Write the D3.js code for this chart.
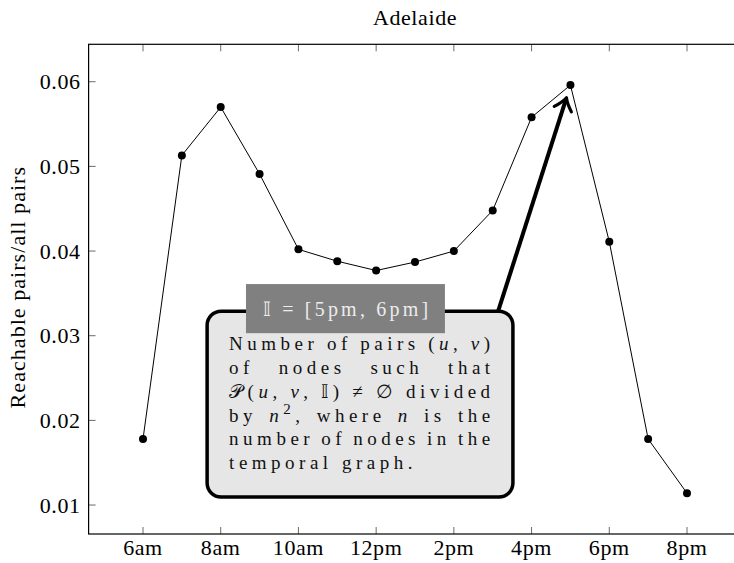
<!DOCTYPE html>
<html>
<head>
<meta charset="utf-8">
<script src="https://cdn.jsdelivr.net/npm/d3@7"></script>
<style>
  html, body { margin: 0; padding: 0; background: #fff; }
  svg { display: block; }
</style>
</head>
<body>
<script>
// hour of day (24h) for each sample
const hours = [6, 7, 8, 9, 10, 11, 12, 13, 14, 15, 16, 17, 18, 19, 20]
const reachable = [0.0178, 0.0513, 0.0570, 0.0491, 0.0402, 0.0388, 0.0377, 0.0387,
  0.0400, 0.0448, 0.0558, 0.0596, 0.0411, 0.0178, 0.0114]

const xTicks = [6, 8, 10, 12, 14, 16, 18, 20]
const xTickLabels = ['6am', '8am', '10am', '12pm', '2pm', '4pm', '6pm', '8pm']
const yTicks = [0.01, 0.02, 0.03, 0.04, 0.05, 0.06]
const yTickLabels = ['0.01', '0.02', '0.03', '0.04', '0.05', '0.06']

const title = 'Adelaide'
const yLabel = 'Reachable pairs/all pairs'
const intervalLabel = '𝕀 = [5pm, 6pm]'
// _x_ = math italic, ^x^ = superscript
const noteLines = [
  'Number of pairs (_u_, _v_)',
  'of nodes such that',
  '𝒫(_u_, _v_, 𝕀) ≠ ∅ divided',
  'by _n_^2^, where _n_ is the',
  'number of nodes in the',
  'temporal graph.',
]

const width = 734
const height = 563
const margin = { top: 44.3, right: -7.4, bottom: 29, left: 88.6 }
const serif = '"Liberation Serif"'

// pgfplots-style 10% enlargement of the limits
const enlarge = ([a, b]) => [a - (b - a) * 0.1, b + (b - a) * 0.1]

const x = d3.scaleLinear()
  .domain(enlarge(d3.extent(hours)))
  .range([margin.left, width - margin.right])

const y = d3.scaleLinear()
  .domain(enlarge(d3.extent(reachable)))
  .range([height - margin.bottom, margin.top])

const svg = d3.select('body').append('svg')
  .attr('width', width)
  .attr('height', height)
  .attr('viewBox', `0,0,${width},${height}`)

const [x0, x1] = x.range()
const [y0, y1] = y.range()

// inward ticks, all four sides
const ticks = svg.append('g').attr('stroke', '#444').attr('stroke-width', 0.8)
ticks.selectAll('.xt').data(xTicks).join('path')
  .attr('d', (d) => `M${x(d)},${y0}v-7M${x(d)},${y1}v7`)
ticks.selectAll('.yt').data(yTicks).join('path')
  .attr('d', (d) => `M${x0},${y(d)}h7M${x1},${y(d)}h-7`)

svg.append('rect')
  .attr('x', x0).attr('y', y1)
  .attr('width', x1 - x0).attr('height', y0 - y1)
  .attr('fill', 'none').attr('stroke', '#000').attr('stroke-width', 1.2)

svg.append('g')
  .selectAll('text').data(xTicks).join('text')
  .style('font-family', serif).attr('font-size', 22).attr('letter-spacing', 0.6)
  .attr('text-anchor', 'middle')
  .attr('x', (d) => x(d))
  .attr('y', y0 + 21)
  .text((d, i) => xTickLabels[i])

svg.append('g')
  .selectAll('text').data(yTicks).join('text')
  .style('font-family', serif).attr('font-size', 22).attr('letter-spacing', 0.6)
  .attr('text-anchor', 'end')
  .attr('x', x0 - 8)
  .attr('y', (d) => y(d))
  .attr('dy', '0.34em')
  .text((d, i) => yTickLabels[i])

svg.append('text')
  .style('font-family', serif).attr('font-size', 22).attr('letter-spacing', 0.6)
  .attr('x', (x0 + x1) / 2).attr('y', 25)
  .attr('text-anchor', 'middle')
  .text(title)

svg.append('text')
  .style('font-family', serif).attr('font-size', 22).attr('letter-spacing', 1.05)
  .attr('transform', `translate(25,${(y0 + y1) / 2 - 2}) rotate(-90)`)
  .attr('text-anchor', 'middle')
  .text(yLabel)

// series
const line = d3.line().x((d, i) => x(hours[i])).y((d) => y(d))
svg.append('path')
  .datum(reachable)
  .attr('d', line)
  .attr('fill', 'none').attr('stroke', '#000').attr('stroke-width', 1)

svg.append('g').selectAll('circle').data(reachable).join('circle')
  .attr('cx', (d, i) => x(hours[i]))
  .attr('cy', (d) => y(d))
  .attr('r', 4)
  .attr('fill', '#000')

// annotation (placed in data units)
const note = { left: 7.65, right: 15.52, top: 0.0329, bottom: 0.01094 }
const tag = { left: 8.65, right: 13.77, top: 0.0361, bottom: 0.0303 }
const arrow = { from: [15.14, 0.0329], to: [16.89, 0.0580] }

const ann = svg.append('g')

const [ax, ay] = [x(arrow.from[0]), y(arrow.from[1])]
const [bx, by] = [x(arrow.to[0]), y(arrow.to[1])]
const rad = Math.atan2(by - ay, bx - ax)
ann.append('line')
  .attr('x1', ax).attr('y1', ay)
  .attr('x2', bx - 2 * Math.cos(rad)).attr('y2', by - 2 * Math.sin(rad))
  .attr('stroke', '#000').attr('stroke-width', 4)
ann.append('path')
  .attr('transform', `translate(${bx},${by}) rotate(${rad * 180 / Math.PI})`)
  .attr('d', 'M-11,-9Q-4,-2 1,0Q-4,2 -11,9')
  .attr('fill', 'none').attr('stroke', '#000').attr('stroke-width', 3.2)
  .attr('stroke-linecap', 'round').attr('stroke-linejoin', 'round')

const bx0 = x(note.left), bx1 = x(note.right)
const by0 = y(note.top), by1 = y(note.bottom)
ann.append('rect')
  .attr('x', bx0).attr('y', by0)
  .attr('width', bx1 - bx0).attr('height', by1 - by0)
  .attr('rx', 14).attr('ry', 14)
  .attr('fill', '#e6e6e6').attr('stroke', '#000').attr('stroke-width', 3.5)

const tx0 = x(tag.left), tx1 = x(tag.right)
const ty0 = y(tag.top), ty1 = y(tag.bottom)
ann.append('rect')
  .attr('x', tx0).attr('y', ty0)
  .attr('width', tx1 - tx0).attr('height', ty1 - ty0)
  .attr('fill', '#808080')
ann.append('text')
  .style('font-family', serif).attr('font-size', 20).attr('letter-spacing', 3.2)
  .attr('x', (tx0 + tx1) / 2 + 1.6).attr('y', (ty0 + ty1) / 2)
  .attr('dy', '0.35em').attr('text-anchor', 'middle')
  .attr('fill', '#ececec')
  .text(intervalLabel)

// justified paragraph
const padL = 22, textW = 261, firstBase = 39, lineH = 23.8
const bodyFont = 19, ls = 4.5
const runs = (word) => word.split(/(_[^_]+_|\^[^^]+\^)/).filter((s) => s)
  .map((s) => s[0] === '_' ? { t: s.slice(1, -1), it: true }
    : s[0] === '^' ? { t: s.slice(1, -1), sup: true } : { t: s })

noteLines.forEach((ln, li) => {
  const words = ln.split(' ')
  const yy = by0 + firstBase + li * lineH
  const nodes = words.map((w) => {
    const t = ann.append('text')
      .style('font-family', serif).attr('font-size', bodyFont).attr('letter-spacing', ls)
      .attr('y', yy).attr('fill', '#111')
    let raised = false
    runs(w).forEach((r) => {
      const sp = t.append('tspan').text(r.t)
      if (r.it) sp.attr('font-style', 'italic')
      if (r.sup) { sp.attr('font-size', 15).attr('dy', -8); raised = true }
      else if (raised) { sp.attr('dy', 8); raised = false }
    })
    return t
  })
  const widths = nodes.map((n) => n.node().getComputedTextLength() - ls)
  const last = li === noteLines.length - 1
  const gap = last ? bodyFont * 0.25 + 2 * ls
    : (textW - d3.sum(widths)) / (words.length - 1)
  let cx = bx0 + padL
  nodes.forEach((n, i) => { n.attr('x', cx); cx += widths[i] + gap })
})
</script>
</body>
</html>
